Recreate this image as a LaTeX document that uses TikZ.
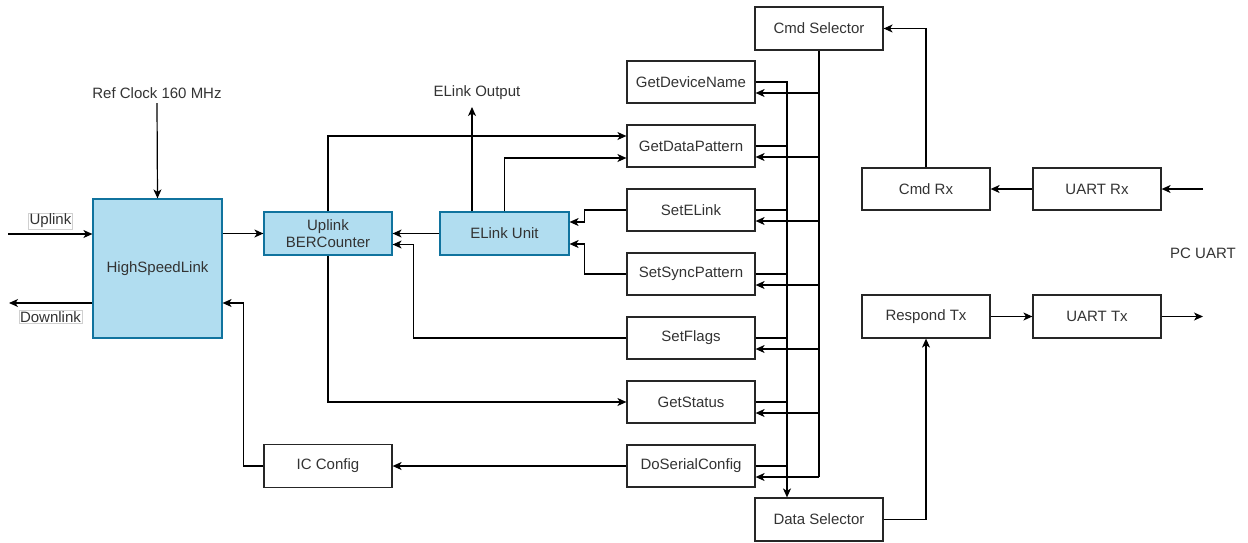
\documentclass[tikz,border=0pt]{standalone}
\usepackage{fontspec}
\setmainfont{Liberation Sans}
\usetikzlibrary{arrows.meta,calc}
\definecolor{txt}{HTML}{333333}
\definecolor{blkfill}{HTML}{B1DDF0}
\definecolor{blkdraw}{HTML}{10739E}
\definecolor{lblborder}{HTML}{D0D0D0}
\tikzset{
  every node/.style={font=\fontsize{15}{17}\selectfont, text=txt},
  blockbox/.style={draw=black!85, line width=1.2pt, minimum width=128pt, minimum height=43pt, inner sep=0pt, align=center},
  hotbox/.style={blockbox, draw=blkdraw, fill=blkfill},
  wire/.style={draw=black, line width=1.2pt},
  arr/.style={wire, -{Stealth[length=9pt,width=8pt,inset=2.5pt]}},
  edgelabel/.style={draw=lblborder, fill=white, inner sep=1pt, line width=0.8pt},
  plain/.style={inner sep=0pt}
}
\begin{document}
\begin{tikzpicture}[x=1pt,y=-1pt]
\useasboundingbox (0,0) rectangle (1248,542);

% --- high speed side ---
\node[hotbox, minimum width=129pt, minimum height=139pt] (hsl) at (157.5,268.5) {HighSpeedLink};
\node[hotbox] (ber) at (328,233.5) {Uplink\\[-0.5pt]BERCounter};
\node[hotbox, minimum width=129pt] (elink) at (504.5,233.5) {ELink Unit};
\node[blockbox] (ic) at (328,466) {IC Config};

% --- command handlers ---
\node[blockbox, minimum height=42pt] (gdn) at (691,82) {GetDeviceName};
\node[blockbox, minimum height=42pt] (gdp) at (691,146) {GetDataPattern};
\node[blockbox, minimum height=42pt] (sel) at (691,210) {SetELink};
\node[blockbox, minimum height=42pt] (ssp) at (691,274) {SetSyncPattern};
\node[blockbox, minimum height=42pt] (sfl) at (691,338) {SetFlags};
\node[blockbox, minimum height=42pt] (gst) at (691,402) {GetStatus};
\node[blockbox, minimum height=42pt] (dsc) at (691,466) {DoSerialConfig};

\node[blockbox] (cmdsel) at (819,28.5) {Cmd Selector};
\node[blockbox] (datasel) at (819,519.5) {Data Selector};

% --- UART side ---
\node[blockbox, minimum height=42pt] (cmdrx) at (926,189) {Cmd Rx};
\node[blockbox, minimum height=42pt] (uartrx) at (1097,189) {UART Rx};
\node[blockbox] (resptx) at (926,316.5) {Respond Tx};
\node[blockbox] (uarttx) at (1097,316.5) {UART Tx};

% --- free texts and loose ends ---
\node[plain] (refclk) at (157,93) {Ref Clock 160 MHz};
\node[plain] (elinkout) at (477,93) {ELink Output};
\node[plain] (pcuart) at (1203,253) {PC UART};
\coordinate (refin) at (157,103);
\coordinate (elinktop) at (472,107);
\coordinate (upin) at (8,234);
\coordinate (dnout) at (9,303);
\coordinate (rxin) at (1203,189);
\coordinate (txout) at (1203,316.5);
\coordinate (dbus) at (787,0);

% clock and link ports
\draw[arr] (refin) -- (hsl.north);
\draw[arr] (upin) -- (upin -| hsl.west);
\draw[arr] (dnout -| hsl.west) -- (dnout);
\node[edgelabel] (uplbl) at (50.5,221) {Uplink};
\node[edgelabel] (dnlbl) at (50.5,317) {Downlink};

\draw[arr] (hsl.east |- ber.west) -- (ber.west);
\draw[arr] (elink.west) -- (ber.east);
\draw[arr] ([xshift=-32.5pt]elink.north) -- (elinktop);
\draw[arr] (ber.north) |- ([yshift=10pt]gdp.west);
\draw[arr] (elink.north) |- ([yshift=-12pt]gdp.west);
\draw[arr] (ber.south) |- (gst.west);
\draw[arr] (sfl.west) -| ($(ber.east)+(21,11)$) -- ($(ber.east)+(0,11)$);
\draw[arr] (sel.west) -| ($(elink.east)+(15,-11.5)$) -- ($(elink.east)+(0,-11.5)$);
\draw[arr] (ssp.west) -| ($(elink.east)+(15,10.5)$) -- ($(elink.east)+(0,10.5)$);
\draw[arr] (dsc.west) -- (ic.east);
\draw[arr] (ic.west) -| ($(hsl.east)+(21,34.5)$) -- ($(hsl.east)+(0,34.5)$);

% command bus from the selector to every handler
\draw[wire] (cmdsel.south) -- (cmdsel.south |- {$(dsc.east)+(0,11)$});
\foreach \h in {gdn,gdp,sel,ssp,sfl,gst,dsc}
  \draw[arr] (cmdsel.south |- {$(\h.east)+(0,11)$}) -- ($(\h.east)+(0,11)$);

% data bus from every handler to the data selector
\draw[arr] (gdn.east) -| (dbus |- datasel.north);
\foreach \h in {gdp,sel,ssp,sfl,gst,dsc}
  \draw[wire] (\h.east) -- (\h.east -| dbus);

% UART path
\draw[arr] (rxin) -- (uartrx.east);
\draw[arr] (uartrx.west) -- (cmdrx.east);
\draw[arr] (cmdrx.north) |- (cmdsel.east);
\draw[arr] (datasel.east) -| (resptx.south);
\draw[arr] (resptx.east) -- (uarttx.west);
\draw[arr] (uarttx.east) -- (txout);
\end{tikzpicture}
\end{document}
